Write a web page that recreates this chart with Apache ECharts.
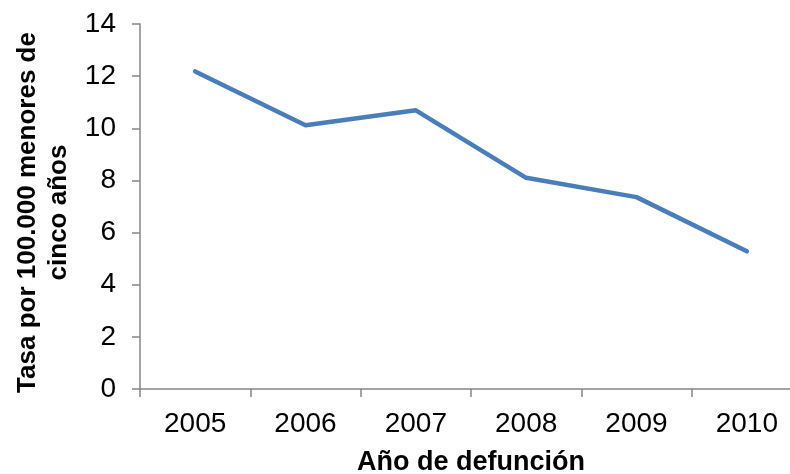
<!DOCTYPE html>
<html>
<head>
<meta charset="utf-8">
<script src="https://cdn.jsdelivr.net/npm/echarts@6/dist/echarts.min.js"></script>
<style>
  html, body { margin: 0; padding: 0; background: #fff; }
  #chart { width: 790px; height: 474px; }
</style>
</head>
<body>
<div id="chart"></div>
<script>
// datos
var years = ['2005', '2006', '2007', '2008', '2009', '2010'];
var tasa = [12.18, 10.12, 10.69, 8.10, 7.36, 5.28];
var yTicks = { min: 0, max: 14, step: 2 };

var axisGray = '#868686';
var font = 'Liberation Sans, Arial, sans-serif';

var chart = echarts.init(document.getElementById('chart'));
chart.setOption({
    animation: false,
    grid: {
        left: 140, top: 24, width: 662, bottom: 85,
        containLabel: false, outerBoundsMode: 'none'
    },
    xAxis: {
        type: 'category',
        data: years,
        boundaryGap: true,
        name: 'Año de defunción',
        nameLocation: 'middle',
        nameGap: 60,
        nameTextStyle: { fontFamily: font, fontWeight: 'bold', fontSize: 27, color: '#000' },
        axisLine: { lineStyle: { color: axisGray, width: 1.5 } },
        axisTick: { show: true, length: 8, lineStyle: { color: axisGray, width: 1.5 } },
        axisLabel: { fontFamily: font, fontSize: 28, color: '#000', margin: 21 },
        splitLine: { show: false }
    },
    yAxis: {
        type: 'value',
        min: yTicks.min,
        max: yTicks.max,
        interval: yTicks.step,
        name: 'Tasa por 100.000 menores de\ncinco años',
        nameLocation: 'middle',
        nameRotate: 90,
        nameGap: 66,
        nameTextStyle: {
            fontFamily: font, fontWeight: 'bold', fontSize: 26, color: '#000',
            lineHeight: 31, padding: [0, 12, 0, 0]
        },
        axisLine: { show: true, lineStyle: { color: axisGray, width: 1.5 } },
        axisTick: { show: true, length: 8, lineStyle: { color: axisGray, width: 1.5 } },
        axisLabel: { fontFamily: font, fontSize: 28, color: '#000', margin: 24 },
        splitLine: { show: false }
    },
    series: [{
        type: 'line',
        data: tasa,
        symbol: 'none',
        lineStyle: { color: '#4A7EBB', width: 4.5, cap: 'round', join: 'round' }
    }]
});
</script>
</body>
</html>
